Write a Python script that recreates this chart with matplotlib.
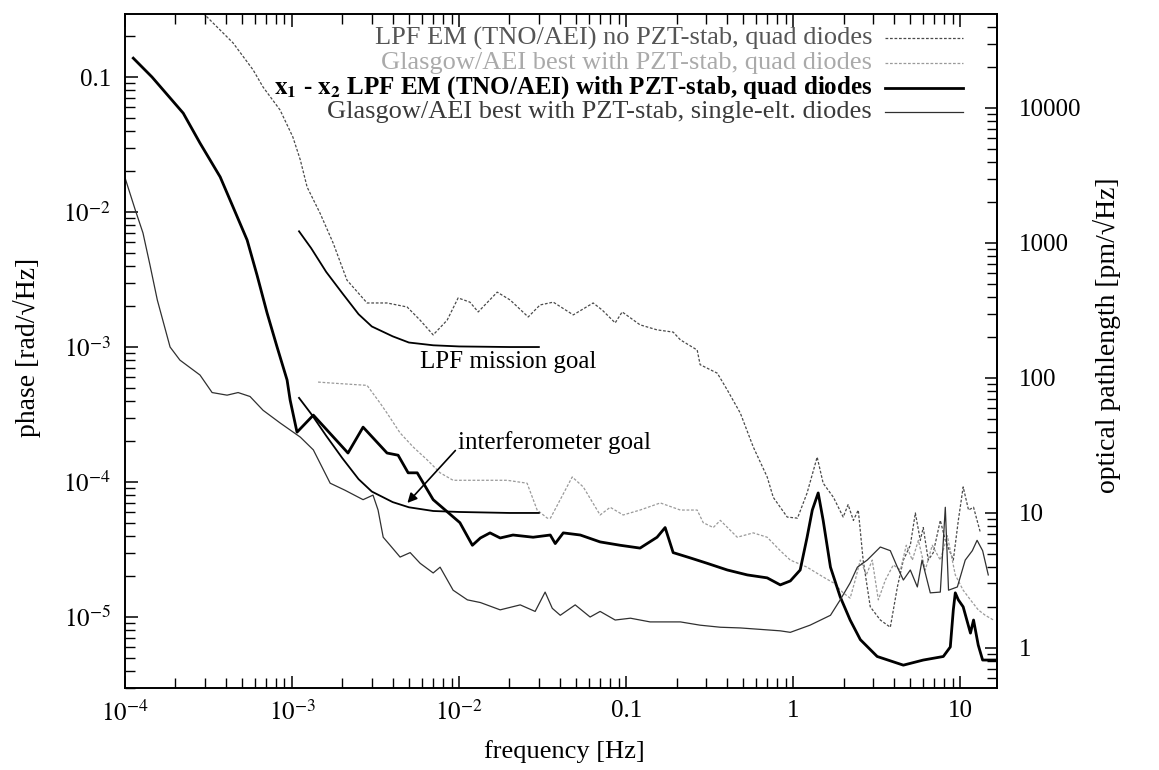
import numpy as np
import matplotlib
matplotlib.use("Agg")
import matplotlib.pyplot as plt
from matplotlib.ticker import FixedLocator, FixedFormatter, LogLocator, NullFormatter

plt.rcParams['font.family'] = ['Liberation Serif', 'DejaVu Serif']
plt.rcParams['mathtext.fontset'] = 'stix'

# ---------------- data ----------------
# LPF EM (TNO/AEI) no PZT-stab, quad diodes
f_nopzt = [2.81e-4, 3.1e-4, 4.43e-4, 5.84e-4, 6.7e-4, 8.47e-4, 1.01e-3, 1.12e-3, 1.23e-3, 1.47e-3,
           1.76e-3, 2.13e-3, 2.81e-3, 3.7e-3, 4.88e-3, 5.84e-3, 6.99e-3, 8.47e-3, 9.86e-3, 0.0116,
           0.013, 0.0169, 0.0202, 0.0259, 0.0305, 0.0366, 0.0482, 0.0634, 0.0718, 0.0859,
           0.0946, 0.121, 0.153, 0.191, 0.211, 0.266, 0.277, 0.351, 0.403, 0.482,
           0.576, 0.698, 0.759, 0.92, 1.06, 1.21, 1.39, 1.51, 1.74, 1.99,
           2.13, 2.29, 2.45, 2.62, 2.89, 3.32, 3.81, 4.2, 4.56, 5.02,
           5.38, 5.76, 6.0, 6.43, 6.89, 7.59, 8.13, 9.08, 9.73, 10.4,
           11.2, 12.0, 13.2]
v_nopzt = [0.313, 0.278, 0.179, 0.113, 0.0843, 0.057, 0.036, 0.0243, 0.0153, 9.8e-3,
           5.9e-3, 3.13e-3, 2.12e-3, 2.12e-3, 1.98e-3, 1.58e-3, 1.23e-3, 1.58e-3, 2.31e-3, 2.15e-3,
           1.82e-3, 2.55e-3, 2.23e-3, 1.67e-3, 2.05e-3, 2.15e-3, 1.73e-3, 2.12e-3, 1.88e-3, 1.51e-3,
           1.82e-3, 1.46e-3, 1.34e-3, 1.29e-3, 1.13e-3, 9.5e-4, 7.4e-4, 6.4e-4, 4.8e-4, 3.24e-4,
           1.82e-4, 1.09e-4, 7.7e-5, 5.5e-5, 5.4e-5, 8.3e-5, 1.53e-4, 9.8e-5, 7.7e-5, 5.5e-5,
           6.8e-5, 5.2e-5, 6.2e-5, 2.64e-5, 1.19e-5, 9.5e-6, 8.4e-6, 1.67e-5, 2.64e-5, 3.4e-5,
           5.9e-5, 3.7e-5, 4.6e-5, 2.64e-5, 3.0e-5, 5.2e-5, 3.7e-5, 2.64e-5, 5.2e-5, 9.2e-5,
           6.2e-5, 6.5e-5, 4.2e-5]

# Glasgow/AEI best with PZT-stab, quad diodes
f_glq = [1.43e-3, 1.76e-3, 2.81e-3, 3.36e-3, 3.7e-3, 4.43e-3, 5.3e-3, 6.43e-3, 7.69e-3, 9.2e-3,
         0.0134, 0.0194, 0.0255, 0.0293, 0.0337, 0.0352, 0.0475, 0.0553, 0.0698, 0.0802,
         0.0959, 0.121, 0.16, 0.211, 0.266, 0.289, 0.332, 0.366, 0.462, 0.576,
         0.698, 0.836, 0.96, 1.21, 1.51, 1.74, 1.99, 2.19, 2.35, 2.52,
         2.74, 2.97, 3.23, 3.56, 3.97, 4.38, 4.75, 5.16, 5.61, 6.17,
         6.79, 7.59, 8.36, 9.33, 10.4, 11.5, 12.8, 14.1, 15.8]
v_glq = [5.5e-4, 5.4e-4, 5.2e-4, 3.85e-4, 3.24e-4, 2.31e-4, 1.82e-4, 1.46e-4, 1.17e-4, 1.03e-4,
         1.03e-4, 1.03e-4, 9.8e-5, 6.2e-5, 5.4e-5, 5.4e-5, 1.09e-4, 9.2e-5, 5.7e-5, 6.5e-5,
         5.7e-5, 6.2e-5, 7.0e-5, 6.2e-5, 6.2e-5, 5.0e-5, 4.6e-5, 5.2e-5, 3.9e-5, 4.2e-5,
         3.9e-5, 3.1e-5, 2.64e-5, 2.34e-5, 1.98e-5, 1.79e-5, 1.51e-5, 1.38e-5, 1.88e-5, 2.64e-5,
         2.05e-5, 2.64e-5, 1.34e-5, 1.88e-5, 2.43e-5, 2.23e-5, 3.4e-5, 2.64e-5, 3.7e-5, 2.23e-5,
         3.4e-5, 2.64e-5, 4.0e-5, 2.05e-5, 1.58e-5, 1.34e-5, 1.13e-5, 1.03e-5, 9.5e-6]

# x1 - x2 LPF EM (TNO/AEI) with PZT-stab, quad diodes
f_x12 = [1.12e-4, 1.45e-4, 2.23e-4, 2.81e-4, 3.71e-4, 4.43e-4, 5.38e-4, 6.17e-4, 7.08e-4, 8.13e-4,
         9.33e-4, 9.73e-4, 1.07e-3, 1.34e-3, 2.16e-3, 2.66e-3, 3.7e-3, 4.31e-3, 4.95e-3, 5.61e-3,
         6.99e-3, 0.0101, 0.012, 0.0134, 0.0153, 0.0176, 0.021, 0.0277, 0.0351, 0.0376,
         0.042, 0.0531, 0.0698, 0.092, 0.121, 0.153, 0.171, 0.191, 0.242, 0.305,
         0.403, 0.531, 0.698, 0.836, 0.96, 1.1, 1.21, 1.3, 1.41, 1.51,
         1.67, 1.91, 2.19, 2.52, 3.18, 4.56, 6.0, 7.91, 8.71, 9.08,
         9.33, 9.73, 10.4, 11.5, 12.0, 12.8, 13.6, 16.2]
v_x12 = [0.138, 0.1, 0.054, 0.0324, 0.0182, 0.0109, 6.2e-3, 3.4e-3, 1.79e-3, 1.0e-3,
         5.7e-4, 4.05e-4, 2.34e-4, 3.13e-4, 1.64e-4, 2.55e-4, 1.64e-4, 1.58e-4, 1.17e-4, 1.17e-4,
         7.4e-5, 5.0e-5, 3.4e-5, 3.85e-5, 4.2e-5, 3.85e-5, 4.05e-5, 3.9e-5, 4.05e-5, 3.5e-5,
         4.2e-5, 4.05e-5, 3.6e-5, 3.4e-5, 3.24e-5, 3.9e-5, 4.6e-5, 3.0e-5, 2.74e-5, 2.5e-5,
         2.23e-5, 2.05e-5, 1.95e-5, 1.73e-5, 1.85e-5, 2.23e-5, 3.9e-5, 6.2e-5, 8.3e-5, 5.2e-5,
         2.34e-5, 1.41e-5, 9.5e-6, 6.8e-6, 5.1e-6, 4.4e-6, 4.8e-6, 5.1e-6, 6.0e-6, 1.13e-5,
         1.51e-5, 1.34e-5, 1.19e-5, 7.6e-6, 9.5e-6, 6.2e-6, 4.8e-6, 4.8e-6]

# Glasgow/AEI best with PZT-stab, single-elt. diodes
f_gls = [1.0e-4, 1.15e-4, 1.28e-4, 1.41e-4, 1.56e-4, 1.86e-4, 2.13e-4, 2.81e-4, 3.32e-4, 4.08e-4,
         4.75e-4, 5.6e-4, 6.7e-4, 8.47e-4, 1.12e-3, 1.34e-3, 1.69e-3, 2.07e-3, 2.66e-3, 3.05e-3,
         3.27e-3, 3.51e-3, 3.86e-3, 4.43e-3, 5.09e-3, 5.84e-3, 6.99e-3, 7.69e-3, 9.2e-3, 0.0112,
         0.0134, 0.0176, 0.0232, 0.0285, 0.0327, 0.0361, 0.0403, 0.0495, 0.0608, 0.0698,
         0.0859, 0.106, 0.139, 0.211, 0.277, 0.366, 0.482, 0.634, 0.836, 0.96,
         1.26, 1.67, 1.91, 2.19, 2.42, 2.77, 3.32, 3.81, 4.2, 4.56,
         5.02, 5.53, 5.9, 6.61, 7.59, 8.13, 8.5, 9.6, 10.7, 11.8,
         12.6, 13.6, 14.7]
v_gls = [0.0179, 0.0104, 7.0e-3, 4.05e-3, 2.23e-3, 1.0e-3, 8.0e-4, 6.2e-4, 4.6e-4, 4.4e-4,
         4.6e-4, 4.3e-4, 3.4e-4, 2.74e-4, 2.15e-4, 1.73e-4, 9.8e-5, 8.7e-5, 7.4e-5, 8.0e-5,
         6.2e-5, 3.9e-5, 3.4e-5, 2.78e-5, 3.0e-5, 2.5e-5, 2.12e-5, 2.34e-5, 1.58e-5, 1.34e-5,
         1.28e-5, 1.13e-5, 1.23e-5, 1.1e-5, 1.53e-5, 1.16e-5, 1.03e-5, 1.23e-5, 1.0e-5, 1.1e-5,
         9.5e-6, 9.8e-6, 9.2e-6, 9.2e-6, 8.7e-6, 8.4e-6, 8.3e-6, 8.1e-6, 7.9e-6, 7.7e-6,
         8.7e-6, 1.03e-5, 1.34e-5, 1.79e-5, 2.34e-5, 2.64e-5, 3.3e-5, 3.1e-5, 2.34e-5, 1.88e-5,
         2.23e-5, 1.67e-5, 2.64e-5, 1.51e-5, 1.53e-5, 6.5e-5, 1.58e-5, 1.67e-5, 2.64e-5, 3.1e-5,
         3.7e-5, 3.1e-5, 2.05e-5]

# goal curves
f_goal = [1.1e-3, 1.3e-3, 1.6e-3, 2e-3, 2.5e-3, 3e-3, 4e-3, 5e-3, 7e-3, 0.01, 0.02, 0.03]
v_lpf_goal = [7.2e-3, 5.4e-3, 3.6e-3, 2.5e-3, 1.75e-3, 1.42e-3, 1.2e-3, 1.08e-3, 1.03e-3, 1.01e-3, 1.0e-3, 1.0e-3]
v_ifo_goal = [4.2e-4, 3.2e-4, 2.2e-4, 1.5e-4, 1.05e-4, 8.5e-5, 7.1e-5, 6.5e-5, 6.1e-5, 6.0e-5, 5.9e-5, 5.9e-5]

legend_labels = ["LPF EM (TNO/AEI) no PZT-stab, quad diodes",
                 "Glasgow/AEI best with PZT-stab, quad diodes",
                 r"$\mathbf{x_1}$ - $\mathbf{x_2}$ LPF EM (TNO/AEI) with PZT-stab, quad diodes",
                 "Glasgow/AEI best with PZT-stab, single-elt. diodes"]

x_ticks = [1e-4, 1e-3, 1e-2, 0.1, 1, 10]
x_ticklabels = [r"$10^{-4}$", r"$10^{-3}$", r"$10^{-2}$", "0.1", "1", "10"]
y_ticks = [1e-5, 1e-4, 1e-3, 1e-2, 0.1]
y_ticklabels = [r"$10^{-5}$", r"$10^{-4}$", r"$10^{-3}$", r"$10^{-2}$", "0.1"]
r_ticks = [1, 10, 100, 1000, 10000]
r_ticklabels = ["1", "10", "100", "1000", "10000"]

# phase (rad) -> optical pathlength (pm) for 1064 nm light
PM_PER_RAD = 1.064e-6 / (2 * np.pi) * 1e12

# ---------------- figure ----------------
FS = 18
fig = plt.figure(figsize=(11.59, 7.70), dpi=100)
ax = fig.add_axes([0.1079, 0.1065, 0.7524, 0.8753])
ax.set_xscale('log')
ax.set_yscale('log')

styles = [
    dict(color='#4a4a4a', lw=0.9, ls=(0, (2.2, 1.4))),
    dict(color='#9a9a9a', lw=0.9, ls=(0, (2.2, 1.4))),
    dict(color='black', lw=2.0, ls='-'),
    dict(color='#303030', lw=0.9, ls='-'),
]
text_colors = ['#555555', '#aaaaaa', 'black', '#3a3a3a']
text_weights = ['normal', 'normal', 'bold', 'normal']
text_sizes = [19, 19, 18, 19]

series = [(f_nopzt, v_nopzt), (f_glq, v_glq), (f_x12, v_x12), (f_gls, v_gls)]
for (fx, vy), st in zip(series, styles):
    ax.plot(fx, vy, **st)

ax.plot(f_goal, v_lpf_goal, color='black', lw=1.3)
ax.plot(f_goal, v_ifo_goal, color='black', lw=1.3)

ax.set_xlim(1e-4, 16.6)
ax.set_ylim(2.98e-6, 0.293)

# legend (gnuplot style: right aligned text, sample on the right)
row_y = [0.9644, 0.9273, 0.8902, 0.8546]
for lab, st, tc, tw, ts, yy in zip(legend_labels, styles, text_colors, text_weights,
                                   text_sizes, row_y):
    ax.text(0.8567, yy, lab, transform=ax.transAxes, ha='right', va='center',
            fontsize=ts, color=tc, fontweight=tw)
    ax.plot([0.8716, 0.961], [yy, yy], transform=ax.transAxes, **st)

# annotations
ax.text(5.8e-3, 7.7e-4, "LPF mission goal", fontsize=FS, ha='left', va='center')
ax.annotate("interferometer goal", xy=(4.9e-3, 7.0e-5), xytext=(9.86e-3, 1.95e-4),
            fontsize=FS, ha='left', va='center',
            arrowprops=dict(arrowstyle='-|>', color='black', lw=1.2,
                            mutation_scale=14, shrinkA=0, shrinkB=0,
                            relpos=(0.0, 0.3)))

# ticks
ax.xaxis.set_major_locator(FixedLocator(x_ticks))
ax.xaxis.set_major_formatter(FixedFormatter(x_ticklabels))
ax.xaxis.set_minor_locator(LogLocator(base=10, subs=range(2, 10), numticks=50))
ax.xaxis.set_minor_formatter(NullFormatter())
ax.yaxis.set_major_locator(FixedLocator(y_ticks))
ax.yaxis.set_major_formatter(FixedFormatter(y_ticklabels))
ax.yaxis.set_minor_locator(LogLocator(base=10, subs=range(2, 10), numticks=50))
ax.yaxis.set_minor_formatter(NullFormatter())

ax.tick_params(axis='x', which='both', direction='in', top=True, bottom=True,
               labelsize=FS, pad=9)
ax.tick_params(axis='y', which='both', direction='in', left=True, right=False,
               labelsize=FS, pad=10)
ax.tick_params(which='major', length=9, width=1.1)
ax.tick_params(which='minor', length=7, width=1.0)
for sp in ax.spines.values():
    sp.set_linewidth(1.4)

secax = ax.secondary_yaxis('right', functions=(lambda v: v * PM_PER_RAD,
                                                lambda p: p / PM_PER_RAD))
secax.yaxis.set_major_locator(FixedLocator(r_ticks))
secax.yaxis.set_major_formatter(FixedFormatter(r_ticklabels))
secax.yaxis.set_minor_locator(LogLocator(base=10, subs=range(2, 10), numticks=50))
secax.yaxis.set_minor_formatter(NullFormatter())
secax.tick_params(which='both', direction='in', labelsize=FS, pad=16)
secax.tick_params(which='major', length=9, width=1.1)
secax.tick_params(which='minor', length=7, width=1.0)
secax.spines['right'].set_linewidth(1.4)

fig.text(564 / 1159, 1 - 752 / 770, "frequency [Hz]", fontsize=19, ha='center', va='center')
fig.text(27 / 1159, 1 - 347 / 770, "phase [rad/\u221aHz]", fontsize=20, ha='center',
         va='center', rotation=90)
fig.text(1107 / 1159, 1 - 335 / 770, "optical pathlength [pm/\u221aHz]", fontsize=20,
         ha='center', va='center', rotation=90)

fig.savefig("out.png", dpi=100)
